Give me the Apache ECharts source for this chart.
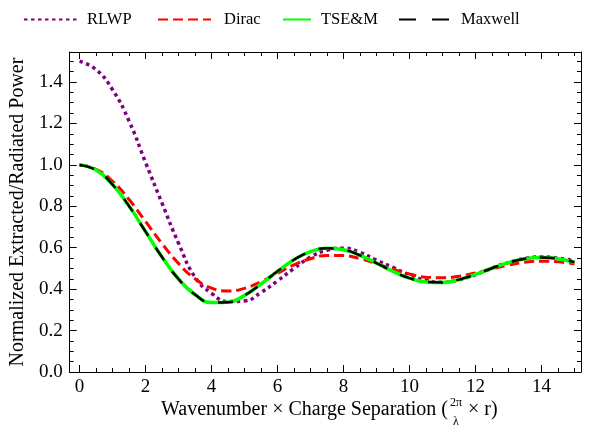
<!DOCTYPE html>
<html><head><meta charset="utf-8">
<script src="https://cdn.jsdelivr.net/npm/echarts@6/dist/echarts.min.js"></script>
<style>html,body{margin:0;padding:0;background:#fff}#c{width:589px;height:431px}</style>
</head><body><div id="c"></div>
<script>
// ---- data ----
const xValues = [0,0.5,1,1.5,2,2.5,3,3.5,4,4.5,5,5.5,6,6.5,7,7.5,8,8.5,9,9.5,10,10.5,11,11.5,12,12.5,13,13.5,14,14.5,15];
const rlwp    = [1.500,1.460,1.363,1.212,1.012,0.815,0.622,0.458,0.380,0.340,0.343,0.384,0.440,0.500,0.555,0.588,0.598,0.578,0.540,0.505,0.468,0.443,0.433,0.445,0.470,0.502,0.528,0.548,0.555,0.550,0.537];
const dirac   = [1.000,0.979,0.921,0.833,0.727,0.620,0.524,0.450,0.405,0.391,0.404,0.436,0.477,0.517,0.547,0.563,0.562,0.547,0.523,0.496,0.473,0.458,0.455,0.462,0.478,0.497,0.516,0.530,0.535,0.532,0.522];
const tsem    = [1.000,0.975,0.905,0.801,0.678,0.555,0.449,0.374,0.336,0.337,0.370,0.425,0.486,0.542,0.581,0.597,0.590,0.563,0.526,0.486,0.453,0.435,0.432,0.446,0.471,0.501,0.528,0.547,0.553,0.547,0.530];
const maxwell = [1.000,0.975,0.905,0.801,0.678,0.555,0.449,0.374,0.336,0.337,0.370,0.425,0.486,0.542,0.581,0.597,0.590,0.563,0.526,0.486,0.453,0.435,0.432,0.446,0.471,0.501,0.528,0.547,0.553,0.547,0.530];
const seriesNames = ['RLWP','Dirac','TSE&M','Maxwell'];
const xMajorTicks = [0,2,4,6,8,10,12,14];
const xMinorTicks = [0,0.5,1,1.5,2,2.5,3,3.5,4,4.5,5,5.5,6,6.5,7,7.5,8,8.5,9,9.5,10,10.5,11,11.5,12,12.5,13,13.5,14,14.5,15];
const yMajorTicks = [0,0.2,0.4,0.6,0.8,1.0,1.2,1.4];
const yMinorTicks = [0,0.05,0.1,0.15,0.2,0.25,0.3,0.35,0.4,0.45,0.5,0.55,0.6,0.65,0.7,0.75,0.8,0.85,0.9,0.95,1.0,1.05,1.1,1.15,1.2,1.25,1.3,1.35,1.4,1.45,1.5];
const yTitle = 'Normalized Extracted/Radiated Power';
const xTitleMain = 'Wavenumber × Charge Separation (';
const xTitleNum = '2π', xTitleDen = 'λ', xTitleTail = '× r)';

// ---- chart ----
const FONT = 'Liberation Serif';
const XMIN = -0.3, XMAX = 15.2, YMIN = 0, YMAX = 1.545;
const toPts = arr => xValues.map((x, i) => [x, arr[i]]);

function xAx(pos, ticks, len, showLine, showLabel) {
  return {
    type: 'value', position: pos, min: XMIN, max: XMAX,
    axisLine: { show: showLine, onZero: false, lineStyle: { color: '#000', width: 1 } },
    axisTick: { show: true, inside: true, length: len, customValues: ticks, lineStyle: { color: '#000', width: 1 } },
    axisLabel: showLabel ? { show: true, customValues: ticks, color: '#000', fontFamily: FONT, fontSize: 19, margin: 6 } : { show: false },
    splitLine: { show: false }
  };
}
function yAx(pos, ticks, len, showLine, showLabel) {
  return {
    type: 'value', position: pos, min: YMIN, max: YMAX,
    axisLine: { show: showLine, onZero: false, lineStyle: { color: '#000', width: 1 } },
    axisTick: { show: true, inside: true, length: len, customValues: ticks, lineStyle: { color: '#000', width: 1 } },
    axisLabel: showLabel ? { show: true, customValues: ticks, color: '#000', fontFamily: FONT, fontSize: 19, margin: 7,
      formatter: v => v.toFixed(1) } : { show: false },
    splitLine: { show: false }
  };
}

const styles = [
  { color: '#800080', width: 3.5, type: [3.5, 3.5] },
  { color: '#ff0000', width: 3, type: [10, 5] },
  { color: '#00ff00', width: 3.5, type: 'solid' },
  { color: '#000000', width: 2.5, type: [15, 14] }
];
const dataSets = [rlwp, dirac, tsem, maxwell];

const legendPos = [
  { left: 18, w: 55, pad: 3, dash: [3.5, 3.5] },
  { left: 152, w: 53, pad: 8, dash: [10, 5] },
  { left: 277, w: 28, pad: 5, dash: 'solid' },
  { left: 393, w: 50, pad: 7, dash: [17, 16] }
];

const chart = echarts.init(document.getElementById('c'), null, { renderer: 'canvas' });
chart.setOption({
  animation: false,
  backgroundColor: '#fff',
  textStyle: { fontFamily: FONT, color: '#000' },
  grid: { left: 68, right: 8, top: 52, bottom: 59, containLabel: false },
  legend: seriesNames.map((n, i) => ({
    data: [n], left: legendPos[i].left, top: 6,
    itemWidth: legendPos[i].w, itemHeight: 14,
    itemStyle: { opacity: 0 },
    lineStyle: { type: legendPos[i].dash },
    textStyle: { fontFamily: FONT, fontSize: 16.5, color: '#000', padding: [0, 0, 0, legendPos[i].pad] }
  })),
  xAxis: [
    xAx('bottom', xMajorTicks, 7, true, true),
    xAx('bottom', xMinorTicks, 4, false, false),
    xAx('top', xMajorTicks, 7, true, false),
    xAx('top', xMinorTicks, 4, false, false)
  ],
  yAxis: [
    Object.assign(yAx('left', yMajorTicks, 7, true, true), {
      name: yTitle, nameLocation: 'middle', nameRotate: 90, nameGap: 40,
      nameTextStyle: { fontFamily: FONT, fontSize: 20, color: '#000' }
    }),
    yAx('left', yMinorTicks, 4, false, false),
    yAx('right', yMajorTicks, 7, true, false),
    yAx('right', yMinorTicks, 4, false, false)
  ],
  graphic: [
    { type: 'text', x: 448, y: 410, style: { text: xTitleMain, fontFamily: FONT, fontSize: 20, fill: '#000', align: 'right', verticalAlign: 'middle' } },
    { type: 'text', x: 456, y: 403, style: { text: xTitleNum, fontFamily: FONT, fontSize: 12, fill: '#000', align: 'center', verticalAlign: 'middle' } },
    { type: 'text', x: 456, y: 422, style: { text: xTitleDen, fontFamily: FONT, fontSize: 12, fill: '#000', align: 'center', verticalAlign: 'middle' } },
    { type: 'text', x: 468, y: 410, style: { text: xTitleTail, fontFamily: FONT, fontSize: 20, fill: '#000', align: 'left', verticalAlign: 'middle' } }
  ],
  series: seriesNames.map((n, i) => ({
    name: n, type: 'line', xAxisIndex: 0, yAxisIndex: 0,
    data: toPts(dataSets[i]), showSymbol: false, symbol: 'none', smooth: true,
    lineStyle: styles[i], itemStyle: { color: styles[i].color }
  }))
});
</script>
</body></html>
